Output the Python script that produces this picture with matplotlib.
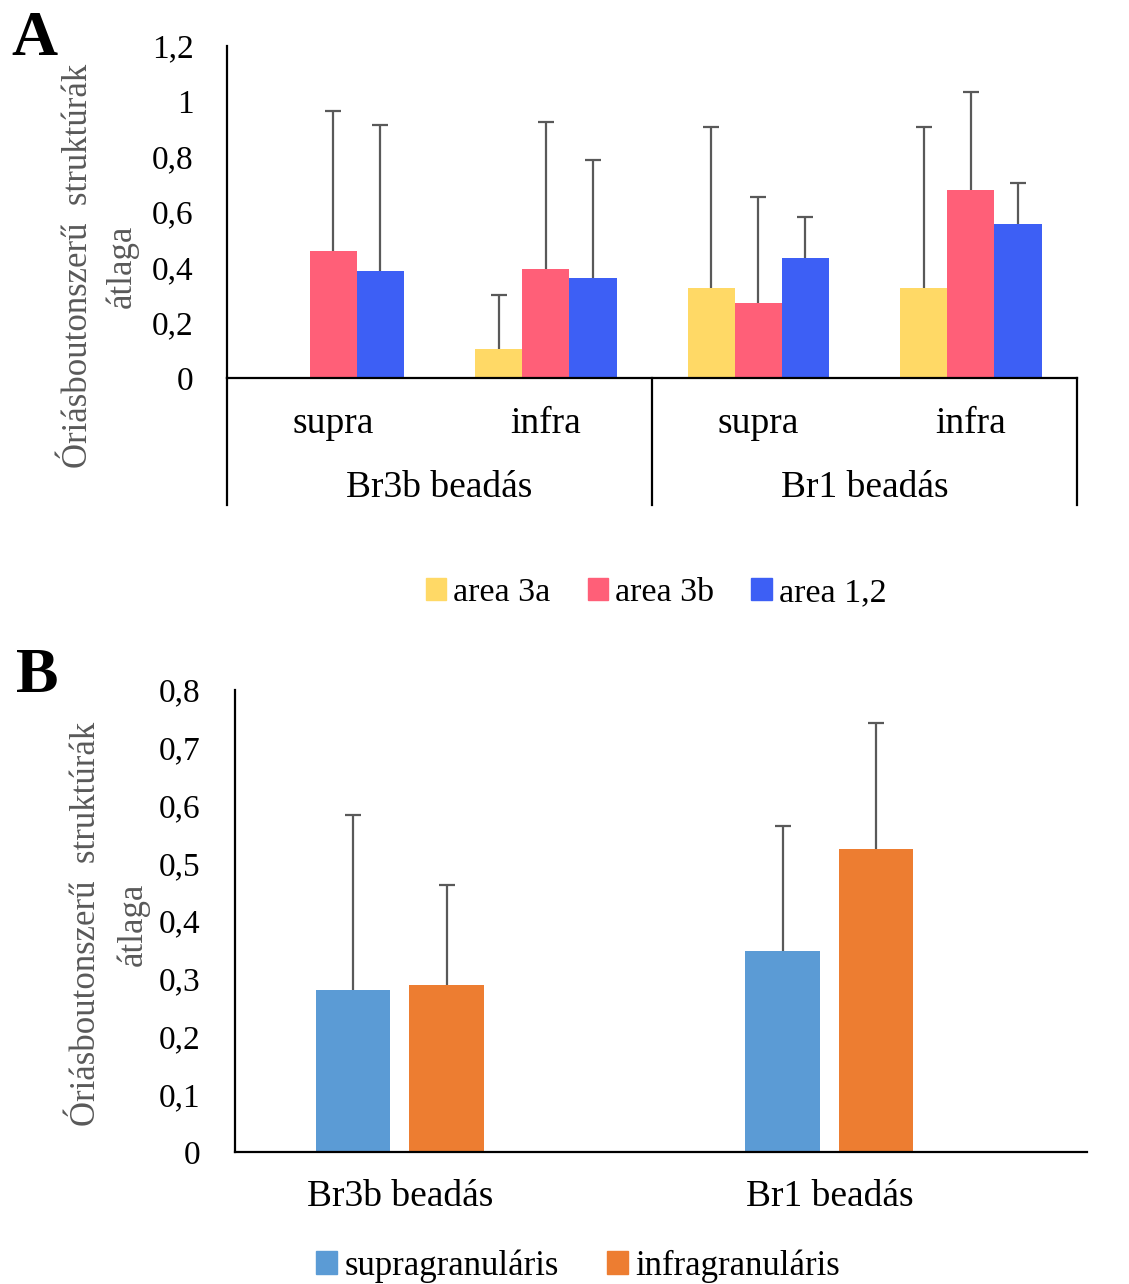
import numpy as np
import matplotlib
matplotlib.use("Agg")
import matplotlib.pyplot as plt
from matplotlib.patches import Patch

plt.rcParams["font.family"] = ["Liberation Serif", "DejaVu Serif"]

# panel A: mean values and upper error-bar ends per area
cats_a = ["supra", "infra", "supra", "infra"]
groups_a = ["Br3b beadás", "Br1 beadás"]
areas = ["area 3a", "area 3b", "area 1,2"]
area3a = [0.0, 0.105, 0.325, 0.325]
area3a_top = [np.nan, 0.30, 0.907, 0.907]
area3b = [0.459, 0.394, 0.271, 0.679]
area3b_top = [0.965, 0.925, 0.654, 1.034]
area12 = [0.387, 0.361, 0.434, 0.557]
area12_top = [0.914, 0.788, 0.582, 0.705]

# panel B
cats_b = ["Br3b beadás", "Br1 beadás"]
layers = ["supragranuláris", "infragranuláris"]
supra = [0.281, 0.348]
supra_top = [0.584, 0.564]
infra = [0.289, 0.525]
infra_top = [0.462, 0.743]

colors_a = ["#FFD966", "#FF5F78", "#3D5FF5"]
colors_b = ["#5B9BD5", "#ED7D31"]
err_col = "#595959"
ylabel = "Óriásboutonszerű  struktúrák\nátlaga"


def upper_err(ax, pos, vals, tops):
    # only the upward half of the error bar, cap on top
    pos, vals, tops = np.asarray(pos), np.asarray(vals), np.asarray(tops)
    ok = ~np.isnan(tops)
    _, caps, _ = ax.errorbar(pos[ok], vals[ok],
                             yerr=[np.zeros(ok.sum()), tops[ok] - vals[ok]],
                             fmt="none", ecolor=err_col, elinewidth=1.6,
                             capsize=6, capthick=1.6, zorder=3)
    caps[0].set_visible(False)


fig = plt.figure(figsize=(11.29, 12.84), dpi=100)

# ---------------- A ----------------
axA = fig.add_axes([0.2011, 0.7056, 0.7529, 0.2586])
x = np.arange(len(cats_a))
w = 0.222
series = [(area3a, area3a_top), (area3b, area3b_top), (area12, area12_top)]
for i, (vals, tops) in enumerate(series):
    pos = x + (i - 1) * w
    axA.bar(pos, vals, width=w, color=colors_a[i], zorder=2)
    upper_err(axA, pos, vals, tops)

axA.set_xlim(-0.5, 3.5)
axA.set_ylim(0, 1.2)
axA.set_yticks(np.arange(0, 1.21, 0.2))
axA.set_yticklabels(["0", "0,2", "0,4", "0,6", "0,8", "1", "1,2"])
axA.set_xticks([])
axA.tick_params(axis="y", length=0, labelsize=24, pad=24)
for s in ["top", "right"]:
    axA.spines[s].set_visible(False)
for s in ["left", "bottom"]:
    axA.spines[s].set_linewidth(1.6)

# multi-level category box below the axis
for xf in [0.0, 0.5, 1.0]:
    axA.plot([xf, xf], [0, -0.3825], transform=axA.transAxes, color="black",
             lw=1.6, clip_on=False)
for i, c in enumerate(cats_a):
    axA.text((i + 0.5) / 4, -0.1375, c, transform=axA.transAxes, ha="center",
             va="center", fontsize=27)
for i, g in enumerate(groups_a):
    axA.text(0.25 + 0.5 * i, -0.33, g, transform=axA.transAxes, ha="center",
             va="center", fontsize=27)

fig.text(100 / 1129, 1 - 266 / 1284, ylabel, rotation=90, ha="center",
         va="center", fontsize=25, color=err_col, linespacing=1.4)
fig.text(0.01, 1 - 40 / 1284, "A", fontsize=46, fontweight="bold", va="center")

handles = [Patch(color=c) for c in colors_a]
fig.legend(handles, areas, loc="center", bbox_to_anchor=(656 / 1129, 1 - 593 / 1284),
           ncol=3, frameon=False, fontsize=24.5, handlelength=0.6, handleheight=0.6,
           handletextpad=0.2, columnspacing=1.1)

# ---------------- B ----------------
axB = fig.add_axes([0.2081, 0.1028, 0.7547, 0.3598])
xb = np.arange(len(cats_b))
wb = 0.174
for i, (vals, tops) in enumerate([(supra, supra_top), (infra, infra_top)]):
    pos = xb + (i - 0.5) * 0.218
    axB.bar(pos, vals, width=wb, color=colors_b[i], zorder=2)
    upper_err(axB, pos, vals, tops)

axB.set_xlim(-0.384, 1.6)
axB.set_ylim(0, 0.8)
axB.set_yticks(np.arange(0, 0.81, 0.1))
axB.set_yticklabels(["0", "0,1", "0,2", "0,3", "0,4", "0,5", "0,6", "0,7", "0,8"])
axB.set_xticks(xb)
axB.set_xticklabels(cats_b)
axB.tick_params(axis="y", length=0, labelsize=24, pad=25)
axB.tick_params(axis="x", length=0, labelsize=27, pad=20)
for s in ["top", "right"]:
    axB.spines[s].set_visible(False)
for s in ["left", "bottom"]:
    axB.spines[s].set_linewidth(1.6)

fig.text(110 / 1129, 1 - 924 / 1284, ylabel, rotation=90, ha="center",
         va="center", fontsize=25, color=err_col, linespacing=1.5)
fig.text(0.014, 1 - 677 / 1284, "B", fontsize=46, fontweight="bold", va="center")

handles = [Patch(color=c) for c in colors_b]
fig.legend(handles, layers, loc="center", bbox_to_anchor=(578 / 1129, 1 - 1266 / 1284),
           ncol=2, frameon=False, fontsize=25, handlelength=0.6, handleheight=0.6,
           handletextpad=0.2, columnspacing=1.4)

fig.savefig("out.png", dpi=100)
